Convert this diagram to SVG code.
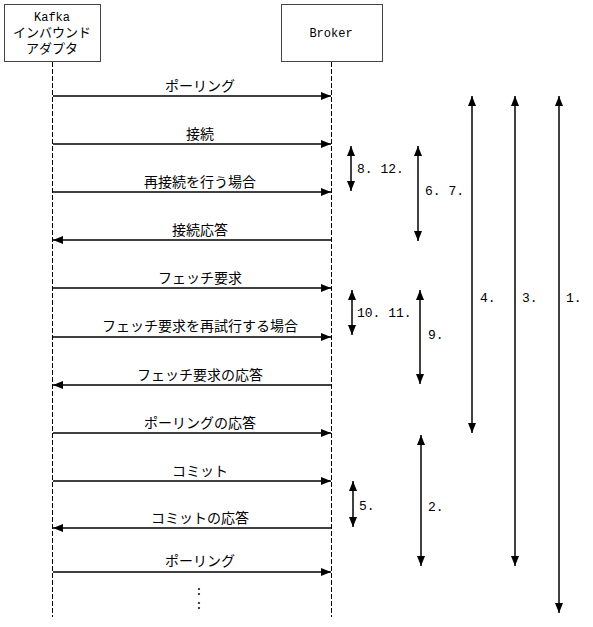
<svg xmlns="http://www.w3.org/2000/svg" width="593" height="627" viewBox="0 0 593 627">
<defs>
<marker id="ah" viewBox="0 0 10 10" refX="10" refY="5" markerWidth="10" markerHeight="10" markerUnits="userSpaceOnUse" orient="auto-start-reverse">
<path d="M0,1 L10,5 L0,9 Z" fill="#000"/>
</marker>
<style>
.box{fill:#fff;stroke:#444;stroke-width:1}
.life{stroke:#000;stroke-width:1;stroke-dasharray:5,2;fill:none}
.msg{stroke:#000;stroke-width:1.5;fill:none;marker-end:url(#ah)}
.rng{stroke:#000;stroke-width:1.5;fill:none;marker-start:url(#ah);marker-end:url(#ah)}
text{font-family:"Liberation Mono","Noto Sans CJK JP",monospace;font-size:13px;fill:#000}
.c{text-anchor:middle}
.m{font-size:14px}
</style>
</defs>
<g id="kafka">
<rect class="box" x="4.5" y="4.5" width="96" height="57"/>
<text class="c" x="52" y="21" style="font-size:12px">Kafka</text>
<text class="c" x="52" y="37">インバウンド</text>
<text class="c" x="52" y="53">アダプタ</text>
</g>
<g id="broker">
<rect class="box" x="281.5" y="4.5" width="101" height="57"/>
<text class="c" x="331" y="37" style="font-size:12px">Broker</text>
</g>
<g id="lifelines">
<line class="life" x1="52.5" y1="62" x2="52.5" y2="617"/>
<line class="life" x1="331.5" y1="62" x2="331.5" y2="617"/>
</g>
<g id="connectors">
<line class="msg" x1="53" y1="96" x2="331" y2="96"/>
<line class="msg" x1="53" y1="144" x2="331" y2="144"/>
<line class="msg" x1="53" y1="192" x2="331" y2="192"/>
<line class="msg" x1="331" y1="240" x2="53" y2="240"/>
<line class="msg" x1="53" y1="288" x2="331" y2="288"/>
<line class="msg" x1="53" y1="337" x2="331" y2="337"/>
<line class="msg" x1="331" y1="385" x2="53" y2="385"/>
<line class="msg" x1="53" y1="433" x2="331" y2="433"/>
<line class="msg" x1="53" y1="481" x2="331" y2="481"/>
<line class="msg" x1="331" y1="528" x2="53" y2="528"/>
<line class="msg" x1="53" y1="572" x2="331" y2="572"/>
<line class="rng" x1="351" y1="146" x2="351" y2="191"/>
<line class="rng" x1="418" y1="146" x2="418" y2="241"/>
<line class="rng" x1="352" y1="290" x2="352" y2="335"/>
<line class="rng" x1="420" y1="290" x2="420" y2="384"/>
<line class="rng" x1="353" y1="481" x2="353" y2="527"/>
<line class="rng" x1="421" y1="435" x2="421" y2="566"/>
<line class="rng" x1="472" y1="96" x2="472" y2="433"/>
<line class="rng" x1="515" y1="96" x2="515" y2="566"/>
<line class="rng" x1="559" y1="96" x2="559" y2="613"/>
</g>
<g id="labels">
<text class="c m" x="200" y="91">ポーリング</text>
<text class="c m" x="200" y="139">接続</text>
<text class="c m" x="200" y="187">再接続を行う場合</text>
<text class="c m" x="200" y="235">接続応答</text>
<text class="c m" x="200" y="283">フェッチ要求</text>
<text class="c m" x="200" y="331">フェッチ要求を再試行する場合</text>
<text class="c m" x="200" y="380">フェッチ要求の応答</text>
<text class="c m" x="200" y="428">ポーリングの応答</text>
<text class="c m" x="200" y="476">コミット</text>
<text class="c m" x="200" y="523">コミットの応答</text>
<text class="c m" x="200" y="566">ポーリング</text>
<text class="c" x="199" y="595">:</text>
<text class="c" x="199" y="609">:</text>
<text x="357" y="173">8. 12.</text>
<text x="425" y="195">6. 7.</text>
<text x="357" y="317">10. 11.</text>
<text x="428" y="339">9.</text>
<text x="359" y="510">5.</text>
<text x="428" y="511">2.</text>
<text x="480" y="302">4.</text>
<text x="522" y="302">3.</text>
<text x="566" y="302">1.</text>
</g>
</svg>
